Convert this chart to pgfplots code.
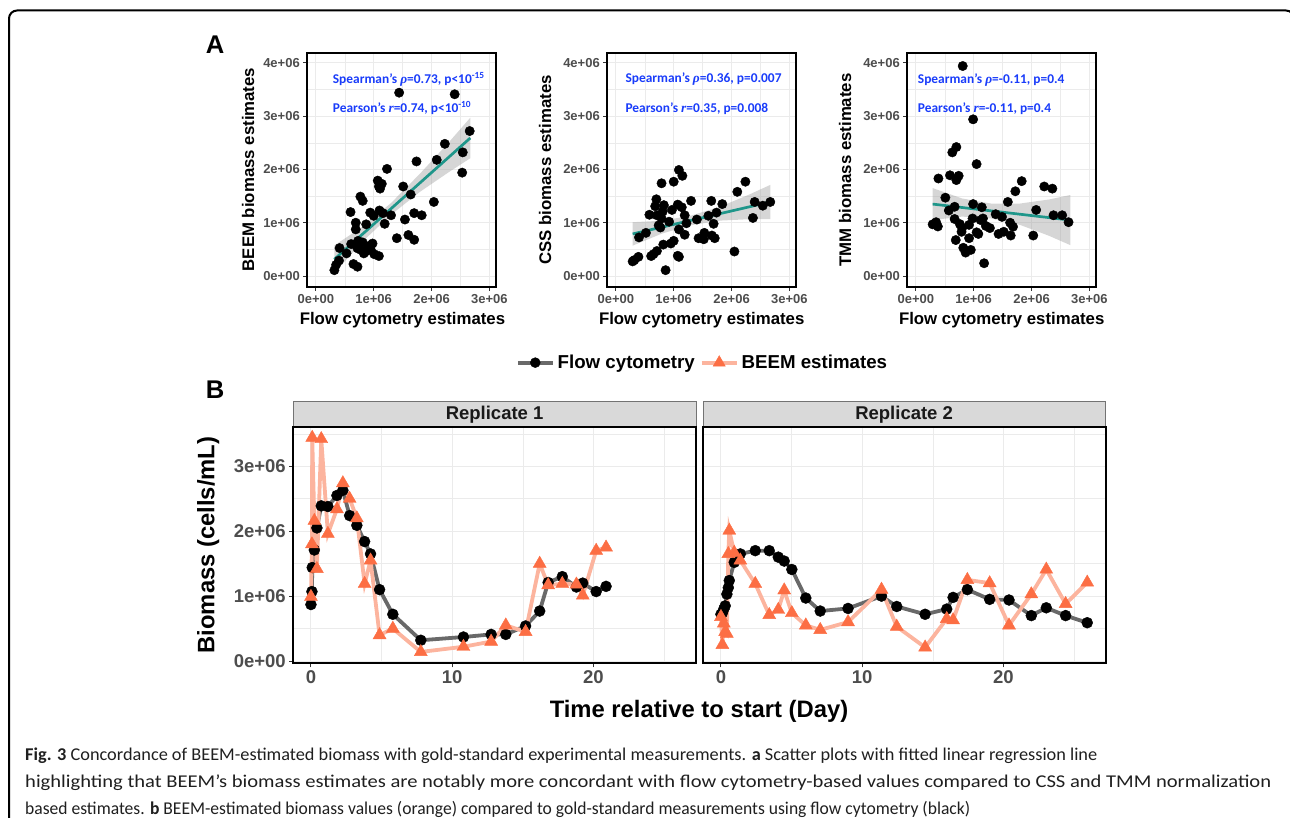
\documentclass[border=0pt]{standalone}
\usepackage{fontspec}
\usepackage{graphicx}
\usepackage{pgfplots}
\pgfplotsset{compat=1.18}
\usepackage{pgfplotstable}
\setmainfont{Liberation Sans}
\newfontfamily\carlito{Carlito}
\newfontfamily\serifit{Liberation Serif}
\newfontfamily\capfont{Carlito}

\definecolor{gridc}{HTML}{EBEBEB}
\definecolor{tickc}{HTML}{4D4D4D}
\definecolor{tealc}{RGB}{31,150,138}
\definecolor{statblue}{RGB}{25,60,250}
\definecolor{orangec}{RGB}{252,110,68}
\definecolor{orangeline}{RGB}{252,180,158}
\definecolor{greyline}{RGB}{105,105,105}
\definecolor{stripc}{HTML}{D9D9D9}
\definecolor{bandc}{RGB}{153,153,153}

% Replicate 1: time (day), flow cytometry, BEEM (cells/mL in 1e6)
\pgfplotstableread{
t flow beem
0 0.87 0.99
0.07 1.07 1.80
0.09 1.44 3.44
0.24 1.71 2.16
0.42 2.05 1.42
0.73 2.39 3.42
1.2 2.38 1.96
1.84 2.55 2.34
2.26 2.63 2.74
2.74 2.24 2.50
3.25 2.09 2.20
3.8 1.84 1.19
4.22 1.65 1.55
4.86 1.10 0.40
5.8 0.72 0.50
7.78 0.32 0.14
10.8 0.37 0.22
12.76 0.41 0.30
13.8 0.41 0.55
15.2 0.54 0.45
16.2 0.77 1.50
16.8 1.21 1.17
17.8 1.30 1.19
18.8 1.14 1.18
19.25 1.20 1.01
20.2 1.07 1.70
20.9 1.15 1.75
}\repone

\pgfplotstableread{
t flow beem
0 0.72 0.68
0.1 0.74 0.25
0.2 0.80 0.58
0.3 0.85 0.45
0.42 1.03 0.42
0.52 1.13 1.65
0.59 1.24 2.01
0.94 1.52 1.67
1.37 1.65 1.55
2.43 1.70 1.19
3.42 1.70 0.71
4.06 1.60 0.79
4.48 1.54 1.09
5.02 1.41 0.74
6.01 0.97 0.55
7.03 0.77 0.48
9.0 0.81 0.60
11.37 1.00 1.10
12.45 0.84 0.53
14.46 0.72 0.21
15.99 0.80 0.65
16.44 0.98 0.63
17.45 1.10 1.25
19.03 0.95 1.20
20.4 0.94 0.55
21.98 0.70 1.03
23.04 0.82 1.41
24.41 0.70 0.88
25.94 0.59 1.21
}\reptwo

\pgfplotsset{
  ggbase/.style={
    scale only axis,
    grid=both,
    major grid style={draw=gridc, line width=1pt},
    minor grid style={draw=gridc, line width=0.5pt},
    axis line style={line width=1.8pt, black},
    tick align=outside, tick pos=left,
    major tick length=4pt, minor tick length=0pt,
    tick style={line width=1pt, color=black!80},
    ticklabel style={text=tickc},
    /pgf/number format/assume math mode=true,
  },
  scat/.style={
    width=189pt, height=234pt,
    xmin=-0.148, xmax=3.12, ymin=-0.2, ymax=4.19,
    xtick={0,1,2,3}, xticklabels={0e+00,1e+06,2e+06,3e+06},
    ytick={0,1,2,3,4}, yticklabels={0e+00,1e+06,2e+06,3e+06,4e+06},
    minor xtick={0.5,1.5,2.5}, minor ytick={0.5,1.5,2.5,3.5},
    ticklabel style={font=\bfseries\fontsize{13}{13}\selectfont},
    anchor=north west,
  },
  scatpts/.style={only marks, mark=*, mark size=4.7pt, black},
  band/.style={fill=bandc, fill opacity=0.4, draw=none},
  fitline/.style={tealc, line width=2.7pt},
  tsax/.style={
    width=402.7pt, height=236pt,
    xmin=-1.25, xmax=27.27, ymin=-0.035, ymax=3.6,
    xtick={0,10,20}, minor xtick={5,15,25},
    ytick={0,1,2,3}, minor ytick={0.5,1.5,2.5,3.5},
    ticklabel style={font=\bfseries\fontsize{18.5}{19}\selectfont},
    anchor=north west,
  },
}

\begin{document}
\begin{tikzpicture}[x=1pt,y=1pt]
\useasboundingbox (0,0) rectangle (1290,-818);
\draw[line width=2pt, rounded corners=8pt] (9,-10.5) rectangle (1294,-840);

% ---------- Panel A ----------
\node[font=\bfseries\fontsize{25.6}{26}\selectfont] at (215,-45) {A};

\begin{axis}[ggbase, scat, at={(307.3pt,-52.7pt)}]
\addplot[scatpts] coordinates {
(1.44,3.44) (2.40,3.41) (2.66,2.72) (2.23,2.48) (2.54,2.32) (2.09,2.18) (1.74,2.15) (2.53,1.94)
(1.23,2.01) (1.07,1.79) (1.14,1.73) (1.09,1.68) (1.11,1.64) (1.51,1.68) (1.64,1.53) (2.04,1.39)
(0.77,1.49) (0.81,1.41) (0.60,1.20) (0.94,1.19) (1.10,1.23) (1.00,1.13) (1.16,1.18) (1.30,1.14)
(1.70,1.18) (1.83,1.14) (1.54,1.06) (0.69,1.00) (0.87,0.97) (1.19,0.98) (0.69,0.875) (1.40,0.71)
(1.60,0.77) (1.70,0.68) (0.41,0.525) (0.53,0.425) (0.61,0.60) (0.73,0.66) (0.81,0.63) (0.72,0.52)
(0.78,0.49) (0.86,0.46) (0.95,0.49) (0.98,0.61) (1.01,0.41) (1.09,0.375) (0.83,0.425) (0.65,0.225)
(0.72,0.175) (0.40,0.29) (0.35,0.21) (0.32,0.11) (0.70,0.58) (0.91,0.56)};
\addplot[band] coordinates {
(0.32,0.575) (0.8,0.92) (1.3,1.37) (1.8,1.92) (2.3,2.51) (2.67,2.97)
(2.67,2.21) (2.3,1.95) (1.8,1.58) (1.3,1.15) (0.8,0.64) (0.32,0.055)};
\addplot[fitline] coordinates {(0.32,0.315) (2.67,2.59)};
\end{axis}

\begin{axis}[ggbase, scat, at={(607.3pt,-52.7pt)}]
\addplot[scatpts] coordinates {
(1.09,1.99) (1.15,1.88) (0.79,1.74) (1.00,1.77) (2.24,1.77) (2.10,1.58) (0.70,1.44) (1.30,1.41)
(1.65,1.41) (1.84,1.35) (2.40,1.39) (2.67,1.39) (2.54,1.32) (0.68,1.31) (0.83,1.33) (1.07,1.34)
(1.14,1.29) (0.97,1.24) (0.81,1.21) (0.58,1.15) (0.71,1.14) (1.19,1.14) (1.60,1.13) (1.74,1.19)
(2.37,1.09) (1.40,1.06) (0.79,1.08) (0.92,1.02) (0.77,0.91) (1.22,0.99) (1.69,0.98) (0.52,0.81)
(1.09,0.875) (1.19,0.775) (0.40,0.725) (1.53,0.81) (1.43,0.71) (1.52,0.69) (1.66,0.76) (1.71,0.71)
(1.00,0.66) (0.95,0.61) (0.82,0.59) (0.71,0.47) (0.65,0.41) (0.61,0.375) (0.39,0.36) (0.32,0.30)
(0.29,0.275) (1.07,0.38) (1.09,0.36) (2.05,0.46) (0.86,0.11) (0.74,0.95)};
\addplot[band] coordinates {
(0.29,1.01) (0.8,1.038) (1.3,1.134) (1.8,1.30) (2.3,1.526) (2.67,1.71)
(2.67,1.07) (2.3,1.066) (1.8,1.04) (1.3,0.954) (0.8,0.798) (0.29,0.57)};
\addplot[fitline] coordinates {(0.29,0.79) (2.67,1.39)};
\end{axis}

\begin{axis}[ggbase, scat, at={(907.3pt,-52.7pt)}]
\addplot[scatpts] coordinates {
(0.81,3.94) (0.99,2.94) (0.70,2.42) (0.63,2.32) (1.05,2.10) (0.39,1.83) (0.59,1.89) (0.74,1.88)
(0.70,1.80) (1.83,1.78) (1.72,1.59) (2.22,1.68) (2.36,1.64) (1.59,1.39) (0.51,1.47) (0.99,1.35)
(0.67,1.30) (1.14,1.29) (0.57,1.23) (2.08,1.24) (1.38,1.16) (1.49,1.11) (2.38,1.14) (2.53,1.14)
(2.64,1.01) (0.67,1.07) (0.98,1.08) (1.16,1.08) (0.29,0.97) (0.35,1.01) (0.38,0.93) (0.76,0.975)
(0.92,0.96) (1.21,0.94) (1.28,0.90) (1.63,1.00) (1.68,0.925) (0.79,0.83) (1.05,0.82) (1.43,0.79)
(1.52,0.83) (1.64,0.76) (2.03,0.76) (0.69,0.675) (0.92,0.71) (1.08,0.79) (0.82,0.53) (0.95,0.49)
(0.86,0.44) (1.18,0.24) (0.80,0.90) (1.12,1.05)};
\addplot[band] coordinates {
(0.29,1.65) (0.8,1.455) (1.3,1.36) (1.8,1.36) (2.3,1.436) (2.67,1.52)
(2.67,0.58) (2.3,0.756) (1.8,0.96) (1.3,1.08) (0.8,1.115) (0.29,1.05)};
\addplot[fitline] coordinates {(0.29,1.35) (2.67,1.05)};
\end{axis}

% panel A labels
\begin{scope}[font=\bfseries\fontsize{16.8}{18}\selectfont]
\node[rotate=90] at (248,-169.5) {BEEM biomass estimates};
\node[rotate=90] at (545,-170) {CSS biomass estimates};
\node[rotate=90] at (845,-170) {TMM biomass estimates};
\node at (402.5,-320) {Flow cytometry estimates};
\node at (701.7,-320) {Flow cytometry estimates};
\node at (1001.7,-320) {Flow cytometry estimates};
\end{scope}
\begin{scope}[font=\carlito\bfseries\fontsize{13.4}{14}\selectfont, text=statblue]
\node[anchor=west, inner sep=0] at (332.7,-79.3) {Spearman’s {\serifit\itshape ρ}=0.73, p<10\textsuperscript{-15}};
\node[anchor=west, inner sep=0] at (332.7,-108.3) {Pearson’s {\serifit\itshape r}=0.74, p<10\textsuperscript{-10}};
\node[anchor=west, inner sep=0] at (625.3,-79.3) {Spearman’s {\serifit\itshape ρ}=0.36, p=0.007};
\node[anchor=west, inner sep=0] at (625.3,-108.3) {Pearson’s {\serifit\itshape r}=0.35, p=0.008};
\node[anchor=west, inner sep=0] at (917.7,-80) {Spearman’s {\serifit\itshape ρ}=-0.11, p=0.4};
\node[anchor=west, inner sep=0] at (917.7,-108.3) {Pearson’s {\serifit\itshape r}=-0.11, p=0.4};
\end{scope}

% ---------- Panel B ----------
\node[font=\bfseries\fontsize{25.6}{26}\selectfont] at (215,-390) {B};
\filldraw[fill=stripc, draw=black!55, line width=0.8pt] (293.3,-401.7) rectangle (696,-427.3);
\filldraw[fill=stripc, draw=black!55, line width=0.8pt] (703.3,-401.7) rectangle (1105,-427.3);
\node[font=\bfseries\fontsize{18.5}{19}\selectfont, text=black!90] at (494.6,-414.5) {Replicate 1};
\node[font=\bfseries\fontsize{18.5}{19}\selectfont, text=black!90] at (904.1,-414.5) {Replicate 2};

\begin{axis}[ggbase, tsax, at={(293.3pt,-427.3pt)},
  yticklabels={0e+00,1e+06,2e+06,3e+06},
  legend style={at={(1.0174,1.274)}, anchor=center, draw=none, fill=none,
    font=\bfseries\fontsize{18.7}{20}\selectfont, legend columns=2,
    nodes={inner sep=3pt},
    /tikz/every even column/.append style={column sep=2pt}},
  legend cell align=left]
\addplot[greyline, line width=3.8pt, forget plot] table[x=t, y=flow] {\repone};
\addplot[orangeline, line width=3.8pt, forget plot] table[x=t, y=beem] {\repone};
\addplot[only marks, mark=*, mark size=5.5pt, black, forget plot] table[x=t, y=flow] {\repone};
\addplot[only marks, mark=triangle*, mark size=7.5pt, orangec, forget plot] table[x=t, y=beem] {\repone};
\addlegendimage{legend image code/.code={
  \draw[greyline, line width=3.8pt] (0pt,0pt) -- (35pt,0pt);
  \draw[black] plot[mark=*, mark size=5pt] coordinates {(17.5pt,0pt)};}}
\addlegendentry{Flow cytometry}
\addlegendimage{legend image code/.code={
  \draw[orangeline, line width=3.8pt] (0pt,0pt) -- (35pt,0pt);
  \draw[orangec] plot[mark=triangle*, mark size=7pt] coordinates {(17.5pt,0pt)};}}
\addlegendentry{BEEM estimates}
\end{axis}

\begin{axis}[ggbase, tsax, at={(703.3pt,-427.3pt)},
  yticklabels={}, ytick style={draw=none}]
\addplot[greyline, line width=3.8pt] table[x=t, y=flow] {\reptwo};
\addplot[orangeline, line width=3.8pt] table[x=t, y=beem] {\reptwo};
\addplot[only marks, mark=*, mark size=5.5pt, black] table[x=t, y=flow] {\reptwo};
\addplot[only marks, mark=triangle*, mark size=7.5pt, orangec] table[x=t, y=beem] {\reptwo};
\end{axis}

\node[rotate=90, font=\bfseries\fontsize{23.8}{25}\selectfont] at (208.3,-545) {Biomass (cells/mL)};
\node[font=\bfseries\fontsize{23.8}{25}\selectfont] at (699,-711) {Time relative to start (Day)};

% ---------- Caption ----------
\begin{scope}[font=\capfont\fontsize{18}{20}\selectfont, text=black!88]
\node[anchor=base west, inner sep=0] at (25,-760) {\resizebox{1072pt}{\height}{\textbf{Fig. 3} Concordance of BEEM-estimated biomass with gold-standard experimental measurements. \textbf{a} Scatter plots with fitted linear regression line}};
\node[anchor=base west, inner sep=0] at (25,-787) {\resizebox{1246pt}{\height}{highlighting that BEEM’s biomass estimates are notably more concordant with flow cytometry-based values compared to CSS and TMM normalization}};
\node[anchor=base west, inner sep=0] at (25,-814) {\resizebox{945pt}{\height}{based estimates. \textbf{b} BEEM-estimated biomass values (orange) compared to gold-standard measurements using flow cytometry (black)}};
\end{scope}
\end{tikzpicture}
\end{document}
